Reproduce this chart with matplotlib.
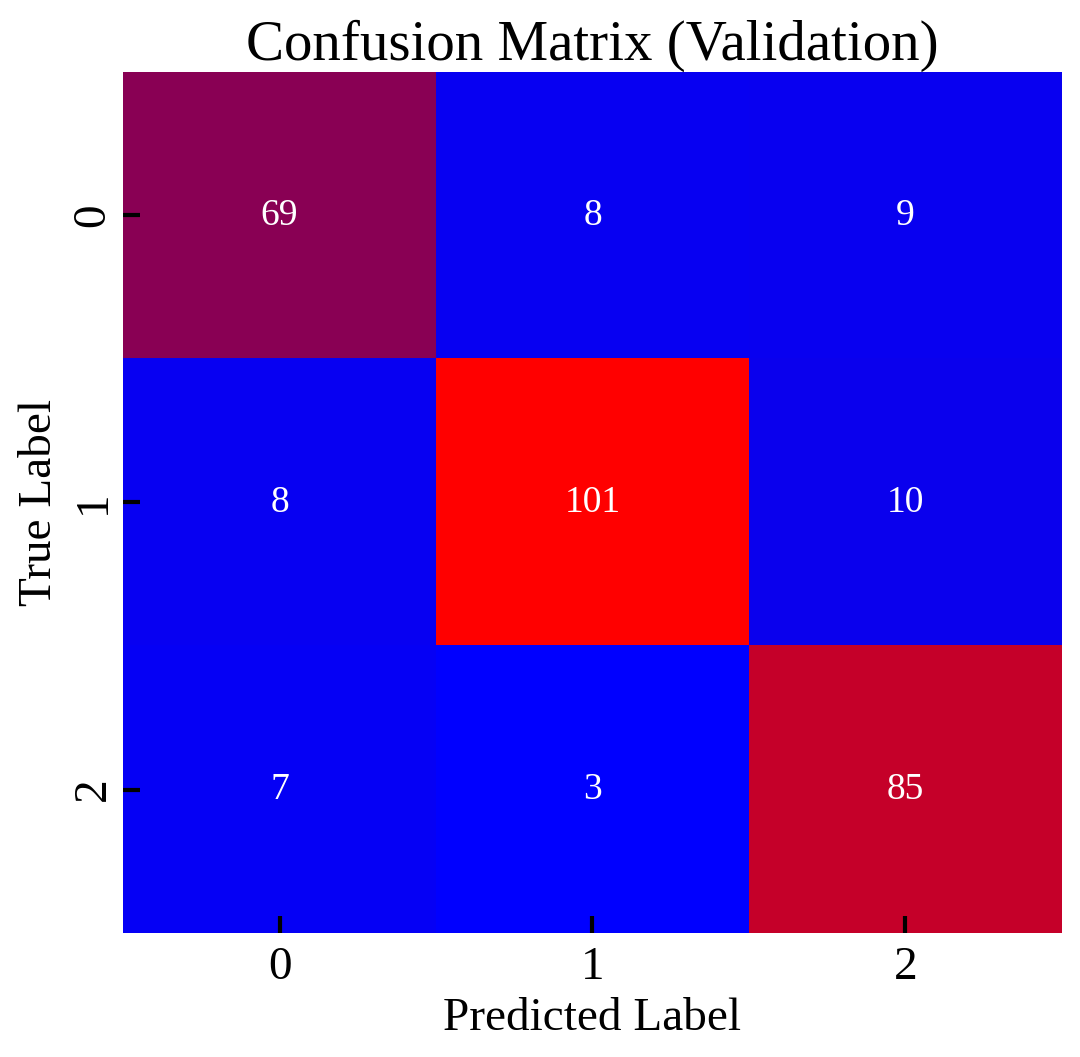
import numpy as np
import matplotlib
matplotlib.use("Agg")
import matplotlib.pyplot as plt
from matplotlib.colors import LinearSegmentedColormap

# confusion matrix values (rows = true, cols = predicted)
labels = ["0", "1", "2"]
row0 = [69, 8, 9]
row1 = [8, 101, 10]
row2 = [7, 3, 85]
cm = np.array([row0, row1, row2])

plt.rcParams['font.family'] = ['Liberation Serif', 'DejaVu Serif']

cmap = LinearSegmentedColormap.from_list("bir", ["blue", "indigo", "red"])

fig = plt.figure(figsize=(10.8, 10.57), dpi=100)
ax = fig.add_axes([0.1139, 0.1173, 0.8694, 0.8146])

ax.imshow(cm, cmap=cmap, aspect='auto', vmin=cm.min(), vmax=cm.max())
for i in range(cm.shape[0]):
    for j in range(cm.shape[1]):
        ax.text(j, i, str(cm[i, j]), ha='center', va='center',
                color='white', fontsize=27)

ax.set_xticks(range(len(labels)))
ax.set_yticks(range(len(labels)))
ax.set_xticklabels(labels, fontsize=34)
ax.set_yticklabels(labels, fontsize=34, rotation=90, va='center')
ax.tick_params(direction='in', length=12, width=3, color='black', pad=10)
ax.tick_params(axis='y', pad=6)
for s in ax.spines.values():
    s.set_visible(False)

ax.set_xlabel("Predicted Label", fontsize=34, labelpad=6)
ax.set_ylabel("True Label", fontsize=34, labelpad=8)
ax.set_title("Confusion Matrix (Validation)", fontsize=41, pad=8)

fig.savefig("out.png", dpi=100)
